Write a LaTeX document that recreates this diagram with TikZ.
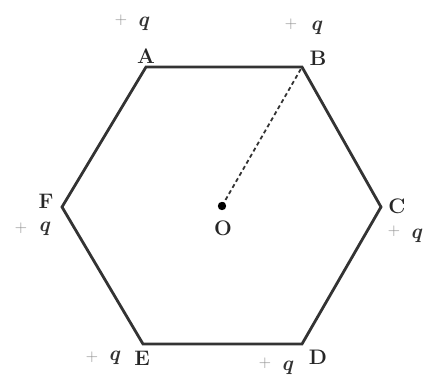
\documentclass[tikz,border=0pt]{standalone}
\begin{document}
\begin{tikzpicture}[x=1pt,y=-1pt,
  lbl/.style={font=\fontsize{21}{24}\selectfont\bfseries, text=black!85, inner sep=0pt},
  chg/.style={font=\fontsize{21}{24}\selectfont\bfseries\itshape, text=black!80, inner sep=0pt},
  plus/.style={font=\fontsize{17}{19}\selectfont, text=black!45, inner sep=0pt},
  edge/.style={line width=2.8pt, draw=black!80, line join=miter}]
\useasboundingbox (0,0) rectangle (425,385);
\coordinate (A) at (146,67);
\coordinate (B) at (302,67);
\coordinate (C) at (381,207);
\coordinate (D) at (302,344);
\coordinate (E) at (143,344);
\coordinate (F) at (62,207);
\coordinate (O) at (222,206);
\draw[edge] (A) -- (B) -- (C) -- (D) -- (E) -- (F) -- cycle;
\draw[line width=1.8pt, draw=black!80, dash pattern=on 4pt off 3pt] (O) -- (B);
\fill[black] (O) circle (4.2pt);
\node[lbl] (lO) at (223,228) {O};
\node[lbl] (lA) at (146,56) {A};
\node[lbl] (lB) at (318,58) {B};
\node[lbl] (lC) at (397,206) {C};
\node[lbl] (lD) at (318,357) {D};
\node[lbl] (lE) at (142,358) {E};
\node[lbl] (lF) at (46,201) {F};
\node[chg] (qA) at (143,24) {q};
\node[plus] (pA) at (121,20) {+};
\node[chg] (qB) at (316,28) {q};
\node[plus] (pB) at (291,24) {+};
\node[chg] (qC) at (416,236) {q};
\node[plus] (pC) at (394,231) {+};
\node[chg] (qD) at (287,368) {q};
\node[plus] (pD) at (265,363) {+};
\node[chg] (qE) at (114,358) {q};
\node[plus] (pE) at (92,357) {+};
\node[chg] (qF) at (44,229) {q};
\node[plus] (pF) at (21,228) {+};
\end{tikzpicture}
\end{document}
